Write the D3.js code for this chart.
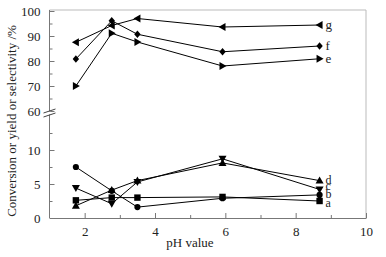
<!DOCTYPE html>
<html>
<head>
<meta charset="utf-8">
<script src="https://cdn.jsdelivr.net/npm/d3@7"></script>
<style>
body { margin: 0; background: #fff; }
svg text { font-family: "Liberation Serif", "Times New Roman", "DejaVu Serif", serif !important; }
</style>
</head>
<body>
<svg width="386" height="257"></svg>
<script>
const svg = d3.select('svg');

// data
const ph = [1.75, 2.77, 3.5, 5.92, 8.68];
const upperSeries = [
    { id: "g", marker: "left", values: [87.5, 94.2, 97, 93.6, 94.4] },
    { id: "f", marker: "diamond", values: [80.8, 96.1, 90.7, 83.7, 86] },
    { id: "e", marker: "right", values: [70, 91.1, 87.6, 78, 80.9] }
];
const lowerSeries = [
    { id: "d", marker: "up", values: [1.8, 4.1, 5.5, 8.1, 5.5] },
    { id: "c", marker: "down", values: [4.4, 2.1, 5.3, 8.7, 4.2] },
    { id: "b", marker: "circle", values: [7.5, 4.0, 1.6, 2.9, 3.4] },
    { id: "a", marker: "square", values: [2.6, 3.0, 3.0, 3.1, 2.5] }
];
const xTicks = [2, 4, 6, 8, 10];
const upperTicks = [60, 70, 80, 90, 100];
const lowerTicks = [0, 5, 10];
// label offsets (the right-hand letters are stacked tight, as in the original)
const labelDy = { g: 0, f: 0, e: 0, d: -1, c: -3, b: -1, a: 2 };

const plot = { left: 49.5, right: 366, top: 11, bottom: 218 };
const xscale = d3.scaleLinear().domain([1, 10]).range([plot.left, plot.right]);
const yUpper = d3.scaleLinear().domain([60, 100]).range([111, 11]);
const yLower = d3.scaleLinear().domain([0, 15]).range([plot.bottom, 116]);

const axisColor = "#777";
const textColor = "#222";
const serif = "'Liberation Serif', 'Times New Roman', serif";
const g = svg.append("g");

// frame (top and right)
g.append("path")
    .attr("d", `M${plot.left},${plot.top - 1}H${plot.right}V${plot.bottom}`)
    .attr("fill", "none").attr("stroke", "#bbb").attr("stroke-width", 1);

// x axis
const xaxis = d3.axisBottom(xscale).tickValues(xTicks).tickSizeInner(-5).tickSizeOuter(0).tickPadding(9);
g.append("g").attr("transform", `translate(0,${plot.bottom})`).call(xaxis)
    .attr("font-family", serif)
    .call(s => s.select(".domain").attr("stroke", axisColor))
    .call(s => s.selectAll(".tick line").attr("stroke", axisColor))
    .call(s => s.selectAll(".tick text").attr("font-size", 13).attr("fill", textColor));
g.append("g").attr("transform", `translate(0,${plot.bottom})`)
    .call(d3.axisBottom(xscale).tickValues([3, 5, 7, 9]).tickSize(-3).tickFormat(""))
    .call(s => s.select(".domain").remove())
    .call(s => s.selectAll(".tick line").attr("stroke", axisColor));

// y axis line
g.append("line").attr("x1", plot.left).attr("x2", plot.left).attr("y1", plot.top - 1).attr("y2", plot.bottom)
    .attr("stroke", axisColor);

function yAxisPart(scale, ticks, minor) {
    g.append("g").attr("transform", `translate(${plot.left},0)`)
        .call(d3.axisLeft(scale).tickValues(ticks).tickSize(-5).tickPadding(9))
        .attr("font-family", serif)
        .call(s => s.select(".domain").remove())
        .call(s => s.selectAll(".tick line").attr("stroke", axisColor))
        .call(s => s.selectAll(".tick text").attr("font-size", 13).attr("fill", textColor));
    g.append("g").attr("transform", `translate(${plot.left},0)`)
        .call(d3.axisLeft(scale).tickValues(minor).tickSize(-3).tickFormat(""))
        .call(s => s.select(".domain").remove())
        .call(s => s.selectAll(".tick line").attr("stroke", axisColor));
}
yAxisPart(yUpper, upperTicks, [65, 75, 85, 95]);
yAxisPart(yLower, lowerTicks, [2.5, 7.5, 12.5]);

// axis break marks
g.append("line").attr("x1", plot.left).attr("x2", plot.left).attr("y1", 111.5).attr("y2", 114.5)
    .attr("stroke", "#fff").attr("stroke-width", 2);
[-2, 2].forEach(o => {
    g.append("line")
        .attr("x1", plot.left - 6).attr("y1", 115 + o)
        .attr("x2", plot.left + 6).attr("y2", 111 + o)
        .attr("stroke", "#444").attr("stroke-width", 1);
});

// axis titles
svg.append("text").attr("x", 190).attr("y", 247)
    .attr("font-family", serif).attr("fill", textColor)
    .attr("text-anchor", "middle").attr("font-size", 13).text("pH value");
svg.append("text").attr("transform", `translate(16,121) rotate(-90)`)
    .attr("font-family", serif).attr("fill", textColor)
    .attr("text-anchor", "middle").attr("font-size", 13).text("Conversion or yield or selectivity /%");

// markers
const markerPath = {
    up: "M0,-4L4,3L-4,3Z",
    down: "M0,4L-4,-3L4,-3Z",
    left: "M-4,0L3,-4L3,4Z",
    right: "M4,0L-3,-4L-3,4Z",
    diamond: "M0,-3.8L3.2,0L0,3.8L-3.2,0Z",
    circle: d3.symbol().type(d3.symbolCircle).size(30)(),
    square: "M-3.2,-3.2H3.2V3.2H-3.2Z"
};

const line = d3.line();
function drawSeries(series, yscale, size) {
    series.forEach(s => {
        const pts = s.values.map((v, i) => [xscale(ph[i]), yscale(v)]);
        g.append("path").attr("d", line(pts))
            .attr("fill", "none").attr("stroke", "#000").attr("stroke-width", 1);
        g.selectAll(null).data(pts).enter().append("path")
            .attr("transform", d => `translate(${d[0]},${d[1]})`)
            .attr("d", markerPath[s.marker]).attr("fill", "#000");
        const last = pts[pts.length - 1];
        g.append("text").attr("x", last[0] + 6).attr("y", last[1] + 4 + labelDy[s.id])
            .attr("font-family", serif).attr("fill", textColor)
            .attr("font-size", size).text(s.id);
    });
}
drawSeries(upperSeries, yUpper, 13);
drawSeries(lowerSeries, yLower, 12);
</script>
</body>
</html>
